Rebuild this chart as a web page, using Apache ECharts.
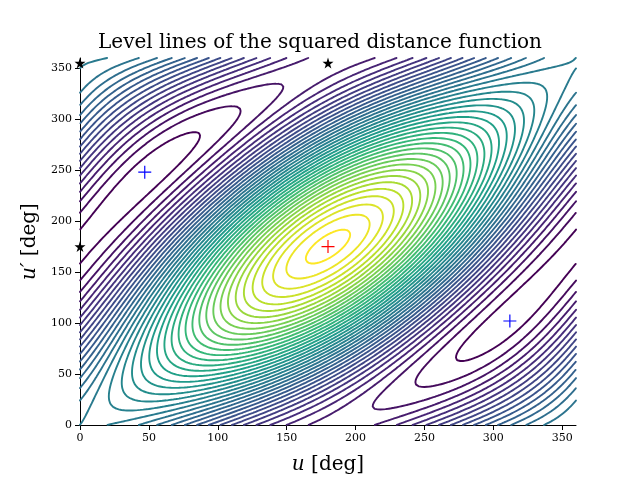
<!DOCTYPE html>
<html><head><meta charset="utf-8">
<script src="https://cdn.jsdelivr.net/npm/echarts@6/dist/echarts.min.js"></script>
<style>html,body{margin:0;padding:0;background:#fff}#c{width:640px;height:480px}</style>
</head><body><div id="c"></div>
<script>
// Function coefficients (max at (180,175), minima at crosses)
var coefA = 0.49, coefB = 0.386, coefC = 1.0, phaseDeg = 5;
var xTicks = [0,50,100,150,200,250,300,350];
var maxPoint = [[180,175]];
var minPoints = [[47,248],[312,102]];
var saddlePoints = [[0,355],[180,355],[0,175]];
var nLevels = 40;

var R = Math.PI/180;
function f(u,v){
  return -coefA*Math.cos(u*R) - coefB*Math.cos((v+phaseDeg)*R) + coefC*Math.cos((u-v-phaseDeg)*R);
}
var step = 2, N = 360/step + 1;
var Z = [], zmin = Infinity, zmax = -Infinity;
for (var i=0;i<N;i++){ Z[i]=[]; for (var j=0;j<N;j++){ var z=f(i*step,j*step); Z[i][j]=z; if(z<zmin)zmin=z; if(z>zmax)zmax=z; } }
var stops = [[68,1,84],[72,40,120],[62,74,137],[49,104,142],[38,130,142],[31,158,137],[53,183,121],[109,205,89],[180,222,44],[253,231,37]];
function viridis(t){
  var p=t*(stops.length-1), k=Math.min(Math.floor(p),stops.length-2), r=p-k;
  var c=stops[k].map(function(a,ii){return Math.round(a+(stops[k+1][ii]-a)*r);});
  return 'rgb('+c.join(',')+')';
}
var series = [];
for (var L=0; L<nLevels; L++){
  var lev = zmin + (zmax-zmin)*(L+0.6)/nLevels;
  var data = [];
  for (var i=0;i<N-1;i++) for (var j=0;j<N-1;j++){
    var x0=i*step,y0=j*step,x1=x0+step,y1=y0+step;
    var a=Z[i][j],b=Z[i+1][j],c=Z[i+1][j+1],d=Z[i][j+1];
    var pts=[];
    if((a-lev)*(b-lev)<0) pts.push([x0+step*(lev-a)/(b-a),y0]);
    if((b-lev)*(c-lev)<0) pts.push([x1,y0+step*(lev-b)/(c-b)]);
    if((c-lev)*(d-lev)<0) pts.push([x0+step*(lev-d)/(c-d),y1]);
    if((d-lev)*(a-lev)<0) pts.push([x0,y0+step*(lev-a)/(d-a)]);
    for (var k=0;k+1<pts.length;k+=2){ data.push(pts[k],pts[k+1],[null,null]); }
  }
  series.push({type:'line',data:data,showSymbol:false,silent:true,connectNulls:false,
    lineStyle:{width:1.9,color:viridis(L/(nLevels-1)),cap:'round'},animation:false,z:2});
}
var cross='path://M-1,-0.09H1V0.09H-1Z M-0.09,-1H0.09V1H-0.09Z';
var star='path://M0,-1L0.2245,-0.309L0.951,-0.309L0.363,0.118L0.588,0.809L0,0.382L-0.588,0.809L-0.363,0.118L-0.951,-0.309L-0.2245,-0.309Z';
series.push({type:'scatter',data:minPoints,symbol:cross,symbolSize:13,itemStyle:{color:'#0000ff',opacity:1},z:5,animation:false});
series.push({type:'scatter',data:maxPoint,symbol:cross,symbolSize:13,itemStyle:{color:'#ff0000',opacity:1},z:5,animation:false});
series.push({type:'scatter',data:saddlePoints,symbol:star,symbolSize:11,itemStyle:{color:'#000',opacity:1},z:5,animation:false});
var font='DejaVu Serif';
var chart=echarts.init(document.getElementById('c'));
chart.setOption({
  animation:false,
  title:{text:'Level lines of the squared distance function',left:'center',top:28,
    textStyle:{fontFamily:font,fontSize:20,fontWeight:'normal',color:'#000'}},
  grid:{left:80,right:64,top:58,bottom:52},
  xAxis:{type:'value',min:0,max:360,interval:50,
    name:'{i|u} [deg]',nameLocation:'middle',nameGap:30,
    nameTextStyle:{fontFamily:font,fontSize:20,color:'#000',rich:{i:{fontStyle:'italic',fontFamily:font,fontSize:20}}},
    axisLine:{lineStyle:{color:'#000'}},axisTick:{lineStyle:{color:'#000'}},splitLine:{show:false},
    axisLabel:{fontFamily:font,fontSize:11,color:'#000',showMaxLabel:false}},
  yAxis:{type:'value',min:0,max:360,interval:50,
    name:'{i|u′} [deg]',nameLocation:'middle',nameGap:38,nameRotate:90,
    nameTextStyle:{fontFamily:font,fontSize:20,color:'#000',rich:{i:{fontStyle:'italic',fontFamily:font,fontSize:20}}},
    axisLine:{lineStyle:{color:'#000'}},axisTick:{lineStyle:{color:'#000'}},splitLine:{show:false},
    axisLabel:{fontFamily:font,fontSize:11,color:'#000',showMaxLabel:false}},
  series:series
});
</script></body></html>
